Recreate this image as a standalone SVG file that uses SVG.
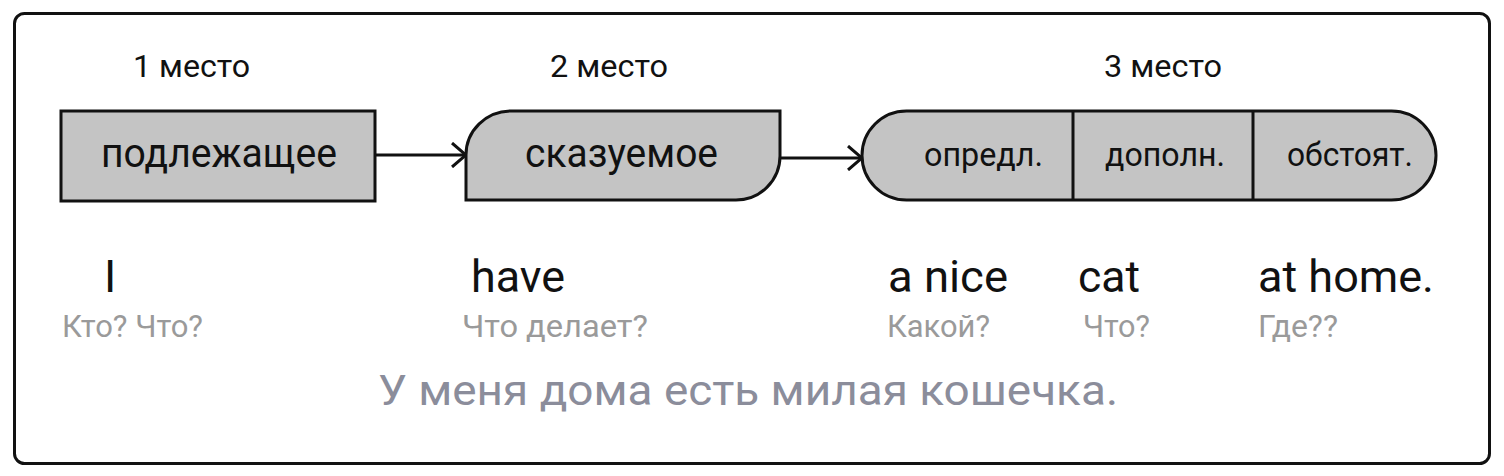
<svg xmlns="http://www.w3.org/2000/svg" width="1504" height="476" viewBox="0 0 1504 476">
<defs>
<style>
.frame{fill:#fff;stroke:#111;stroke-width:3}
.box{fill:#c4c4c4;stroke:#111;stroke-width:3}
.div{stroke:#111;stroke-width:3}
.conn{fill:none;stroke:#111;stroke-width:3}
.t{font-family:Roboto,"Liberation Sans",sans-serif;fill:#111}
.place{font-size:31px}
.main{font-size:40px}
.small{font-size:34px}
.word{font-size:45px}
.q{font-size:31px;fill:#9a9a9a}
.tr{font-size:42px;fill:#8b8d9b}
</style>
<marker id="arr" viewBox="0 0 16 26" refX="15" refY="13" markerWidth="16" markerHeight="26" markerUnits="userSpaceOnUse" orient="auto">
<path d="M1,1 L15,13 L1,25" fill="none" stroke="#111" stroke-width="3"/>
</marker>
</defs>
<rect width="1504" height="476" fill="#fff"/>
<rect class="frame" x="14.5" y="13.5" width="1475" height="450" rx="10"/>

<g id="labels">
<text class="t place" x="133" y="77" textLength="117" lengthAdjust="spacingAndGlyphs">1 место</text>
<text class="t place" x="550" y="77" textLength="118" lengthAdjust="spacingAndGlyphs">2 место</text>
<text class="t place" x="1104" y="77" textLength="118" lengthAdjust="spacingAndGlyphs">3 место</text>
</g>

<g id="connectors">
<line class="conn" x1="375" y1="155" x2="466" y2="155" marker-end="url(#arr)"/>
<line class="conn" x1="780" y1="158" x2="862" y2="158" marker-end="url(#arr)"/>
</g>

<g id="podlezhashchee">
<rect class="box" x="61" y="111" width="314" height="90"/>
<text class="t main" x="101" y="167" textLength="236" lengthAdjust="spacingAndGlyphs">подлежащее</text>
</g>

<g id="skazuemoe">
<path class="box" d="M466,200 V155 A45,44 0 0 1 511,111 H780 V156 A44,44 0 0 1 736,200 Z"/>
<text class="t main" x="525" y="167" textLength="193" lengthAdjust="spacingAndGlyphs">сказуемое</text>
</g>

<g id="vtoroste">
<rect class="box" x="862" y="111" width="574" height="89" rx="44.5"/>
<line class="div" x1="1073" y1="111" x2="1073" y2="200"/>
<line class="div" x1="1253" y1="111" x2="1253" y2="200"/>
<text class="t small" x="924" y="166" textLength="119" lengthAdjust="spacingAndGlyphs">опредл.</text>
<text class="t small" x="1105" y="166" textLength="120" lengthAdjust="spacingAndGlyphs">дополн.</text>
<text class="t small" x="1287" y="166" textLength="126" lengthAdjust="spacingAndGlyphs">обстоят.</text>
</g>

<g id="words">
<text class="t word" x="104" y="292">I</text>
<text class="t word" x="471" y="292" textLength="94" lengthAdjust="spacingAndGlyphs">have</text>
<text class="t word" x="888" y="292" textLength="120" lengthAdjust="spacingAndGlyphs">a nice</text>
<text class="t word" x="1078" y="292" textLength="62" lengthAdjust="spacingAndGlyphs">cat</text>
<text class="t word" x="1258" y="292" textLength="176" lengthAdjust="spacingAndGlyphs">at home.</text>
</g>

<g id="questions">
<text class="t q" x="62" y="337" textLength="141" lengthAdjust="spacingAndGlyphs">Кто? Что?</text>
<text class="t q" x="462" y="337" textLength="186" lengthAdjust="spacingAndGlyphs">Что делает?</text>
<text class="t q" x="887" y="337" textLength="103" lengthAdjust="spacingAndGlyphs">Какой?</text>
<text class="t q" x="1083" y="337" textLength="67" lengthAdjust="spacingAndGlyphs">Что?</text>
<text class="t q" x="1258" y="337" textLength="80" lengthAdjust="spacingAndGlyphs">Где??</text>
</g>

<g id="translation">
<text class="t tr" x="378" y="405" textLength="740" lengthAdjust="spacingAndGlyphs">У меня дома есть милая кошечка.</text>
</g>
</svg>
